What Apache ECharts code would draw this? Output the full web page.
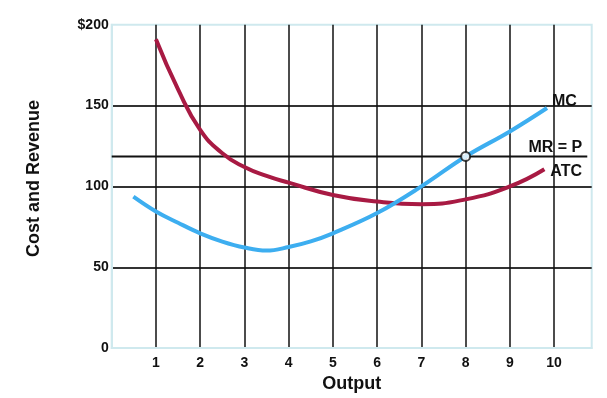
<!DOCTYPE html>
<html><head><meta charset="utf-8">
<script src="https://cdn.jsdelivr.net/npm/echarts@6/dist/echarts.min.js"></script>
<style>html,body{margin:0;padding:0;background:#fff}#c{width:607px;height:398px}</style>
</head><body><div id="c"></div>
<script>
const yTicks = [0, 50, 100, 150, 200];
const xTicks = [1, 2, 3, 4, 5, 6, 7, 8, 9, 10];
const mcData = [[0.49,93.7],[1,84.5],[1.5,77.5],[2,71],[2.5,65.9],[3,62.2],[3.5,60.3],[4,62.5],[4.5,66],[5,71],[6,83.5],[7,100],[8,118.5],[9,134],[9.84,148.5]];
const atcData = [[1,191],[1.5,160],[2,135],[2.5,120.5],[3,112],[3.5,106.5],[4,102.3],[5,94.7],[6,90.6],[7,89],[8,92],[9,100],[9.78,110.6]];
const mrPrice = 118.5;
const mrRange = [0, 10.75];
const equilibrium = [8, 118.5];
const labels = {mc: 'MC', mr: 'MR = P', atc: 'ATC'};

const font = 'Liberation Sans, Arial, Helvetica, sans-serif';
const chart = echarts.init(document.getElementById('c'), null, {renderer: 'canvas'});
chart.setOption({
  animation: false,
  grid: {left: 111.7, right: 15.3, top: 24.7, bottom: 49.7, show: true, borderColor: '#cfe9ee', borderWidth: 2},
  xAxis: {
    type: 'value', min: 0, max: 10.85, interval: 1,
    name: 'Output', nameLocation: 'middle', nameGap: 15,
    nameTextStyle: {fontFamily: font, fontWeight: 'bold', fontSize: 18, color: '#111'},
    axisLine: {show: true, lineStyle: {color: '#cfe9ee', width: 2}},
    axisTick: {show: false},
    axisLabel: {margin: 8, fontFamily: font, fontWeight: 'bold', fontSize: 14, color: '#111',
      formatter: v => xTicks.indexOf(v) >= 0 ? String(v) : ''},
    splitLine: {show: true, showMinLine: false, showMaxLine: false, lineStyle: {color: '#111', width: 1.5}}
  },
  yAxis: {
    type: 'value', min: 0, max: 200, interval: 50,
    name: 'Cost and Revenue', nameLocation: 'middle', nameGap: 69,
    nameTextStyle: {fontFamily: font, fontWeight: 'bold', fontSize: 18, color: '#111', padding: [0, 0, 0, 16]},
    axisLine: {show: true, lineStyle: {color: '#cfe9ee', width: 2}},
    axisTick: {show: false},
    axisLabel: {margin: 3, fontFamily: font, fontWeight: 'bold', fontSize: 14, color: '#111',
      formatter: v => yTicks.indexOf(v) < 0 ? '' : (v === 200 ? '$200' : String(v))},
    splitLine: {show: true, showMinLine: false, showMaxLine: false, lineStyle: {color: '#333', width: 2}}
  },
  series: [
    {type: 'line', data: [[mrRange[0], mrPrice],[mrRange[1], mrPrice]], showSymbol: false, symbol: 'none',
      lineStyle: {color: '#111', width: 2}, z: 3,
      endLabel: {show: true, formatter: labels.mr, align: 'right', verticalAlign: 'bottom', offset: [-13, -1],
        fontFamily: font, fontWeight: 'bold', fontSize: 16, color: '#111'}},
    {type: 'line', data: atcData, smooth: 0.5, showSymbol: false, symbol: 'none',
      lineStyle: {color: '#a81a43', width: 4}, z: 4,
      endLabel: {show: true, formatter: labels.atc, offset: [-2, 2],
        fontFamily: font, fontWeight: 'bold', fontSize: 16, color: '#111'}},
    {type: 'line', data: mcData, smooth: 0.4, showSymbol: false, symbol: 'none',
      lineStyle: {color: '#3daef0', width: 4}, z: 5,
      endLabel: {show: true, formatter: labels.mc, offset: [-3, -6],
        fontFamily: font, fontWeight: 'bold', fontSize: 16, color: '#111'}},
    {type: 'scatter', data: [equilibrium], symbol: 'circle', symbolSize: 9, z: 6,
      itemStyle: {color: '#fff', borderColor: '#111', borderWidth: 2}}
  ]
});
</script></body></html>
